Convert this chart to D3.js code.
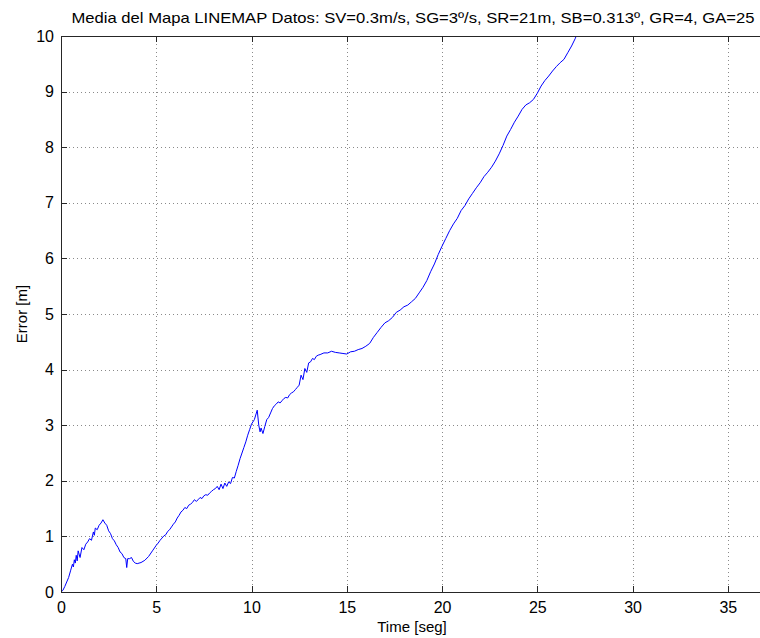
<!DOCTYPE html>
<html>
<head>
<meta charset="utf-8">
<script src="https://cdn.jsdelivr.net/npm/d3@7"></script>
<style>
  html, body { margin: 0; padding: 0; background: #fff; }
  svg { display: block; font-family: "Liberation Sans", Arial, Helvetica, sans-serif; }
</style>
</head>
<body>
<svg id="chart" width="760" height="638"></svg>
<script>
// Mean map error over time (seconds vs. metres)
const timeSeg = [
  0, 0.1, 0.2, 0.3, 0.4, 0.5, 0.6, 0.65, 0.7, 0.75, 0.8, 0.85, 0.9, 1.0, 1.1, 1.2, 1.3, 1.4, 1.5, 1.6,
  1.7, 1.75, 1.8, 1.9, 2.0, 2.1, 2.2, 2.3, 2.4, 2.5, 2.6, 2.7, 2.8, 2.9, 3.0, 3.1, 3.2, 3.3, 3.4, 3.45,
  3.5, 3.6, 3.7, 3.8, 3.9, 4.0, 4.2, 4.4, 4.6, 4.8, 5.0, 5.1, 5.2, 5.3, 5.4, 5.5, 5.6, 5.7, 5.8, 5.9,
  6.0, 6.1, 6.2, 6.3, 6.4, 6.5, 6.6, 6.7, 6.8, 6.9, 7.0, 7.1, 7.2, 7.3, 7.4, 7.5, 7.6, 7.7, 7.8, 7.9,
  8.0, 8.1, 8.2, 8.3, 8.4, 8.5, 8.6, 8.7, 8.8, 8.9, 9.0, 9.1, 9.2, 9.3, 9.4, 9.5, 9.6, 9.7, 9.8, 9.9,
  10.0, 10.15, 10.3, 10.38, 10.45, 10.5, 10.6, 10.7, 10.8, 10.9, 11.0, 11.1, 11.2, 11.3, 11.4, 11.5, 11.6, 11.7, 11.8, 11.9,
  12.0, 12.1, 12.2, 12.3, 12.4, 12.5, 12.6, 12.7, 12.8, 12.9, 13.0, 13.1, 13.2, 13.3, 13.4, 13.5, 13.6, 13.8, 14.0, 14.2,
  14.4, 14.6, 14.8, 15.0, 15.2, 15.4, 15.6, 15.8, 16.0, 16.2, 16.4, 16.6, 16.8, 17.0, 17.2, 17.4, 17.6, 17.8, 18.0, 18.2,
  18.4, 18.6, 18.8, 19.0, 19.2, 19.4, 19.6, 19.8, 20.0, 20.2, 20.4, 20.6, 20.8, 21.0, 21.2, 21.4, 21.6, 21.8, 22.0, 22.2,
  22.4, 22.6, 22.8, 23.0, 23.2, 23.4, 23.6, 23.8, 24.0, 24.2, 24.4, 24.6, 24.8, 25.0, 25.2, 25.4, 25.6, 25.8, 26.0, 26.2,
  26.4, 26.6, 26.8, 27.0, 27.1
];
const errorM = [
  0, 0.03, 0.1, 0.18, 0.26, 0.38, 0.5, 0.45, 0.58, 0.52, 0.66, 0.56, 0.74, 0.62, 0.8, 0.76, 0.86, 0.9, 0.96, 0.93,
  1.08, 1.02, 1.15, 1.12, 1.2, 1.24, 1.3, 1.24, 1.2, 1.1, 1.05, 0.96, 0.92, 0.85, 0.8, 0.72, 0.69, 0.62, 0.6, 0.44,
  0.6, 0.6, 0.62, 0.55, 0.52, 0.51, 0.53, 0.57, 0.64, 0.74, 0.84, 0.88, 0.93, 0.97, 1.01, 1.03, 1.09, 1.12, 1.17, 1.22,
  1.26, 1.33, 1.38, 1.44, 1.47, 1.52, 1.5, 1.56, 1.58, 1.61, 1.66, 1.63, 1.66, 1.7, 1.68, 1.73, 1.75, 1.74, 1.78, 1.81,
  1.84, 1.86, 1.9, 1.84, 1.94, 1.86, 1.96, 1.9, 1.98, 1.95, 2.06, 2.05, 2.17, 2.28, 2.4, 2.5, 2.6, 2.7, 2.82, 2.92,
  3.02, 3.1, 3.27, 3.0, 2.88, 2.95, 2.85, 2.98, 3.1, 3.14, 3.22, 3.3, 3.35, 3.38, 3.42, 3.4, 3.44, 3.48, 3.5, 3.49,
  3.55, 3.58, 3.6, 3.64, 3.68, 3.72, 3.9, 3.82, 4.02, 3.95, 4.12, 4.14, 4.2, 4.18, 4.24, 4.26, 4.27, 4.3, 4.3, 4.33,
  4.31, 4.3, 4.29, 4.28, 4.32, 4.33, 4.36, 4.38, 4.42, 4.47, 4.58, 4.67, 4.76, 4.84, 4.88, 4.94, 5.03, 5.07, 5.13, 5.16,
  5.22, 5.28, 5.38, 5.48, 5.6, 5.76, 5.9, 6.07, 6.22, 6.36, 6.5, 6.62, 6.72, 6.86, 6.95, 7.07, 7.17, 7.27, 7.36, 7.47,
  7.55, 7.64, 7.75, 7.88, 8.03, 8.2, 8.32, 8.45, 8.56, 8.68, 8.76, 8.8, 8.86, 8.97, 9.1, 9.2, 9.28, 9.37, 9.45, 9.52,
  9.58, 9.7, 9.82, 9.96, 10.06
];
const xTicks = [0, 5, 10, 15, 20, 25, 30, 35];
const yTicks = [0, 1, 2, 3, 4, 5, 6, 7, 8, 9, 10];
const titleText = "Media del Mapa LINEMAP Datos: SV=0.3m/s, SG=3º/s, SR=21m, SB=0.313º, GR=4, GA=25";
const xLabel = "Time [seg]";
const yLabel = "Error [m]";

const svg = d3.select("#chart");
const W = 760, H = 638;
const plotL = 61, plotT = 36, plotB = 592, plotR = 764;

svg.append("rect").attr("width", W).attr("height", H).attr("fill", "#fff");

const x = d3.scaleLinear().domain([0, 36.9]).range([plotL, plotR]);
const y = d3.scaleLinear().domain([0, 10]).range([plotB, plotT]);

svg.append("defs").append("clipPath").attr("id", "plotClip")
  .append("rect").attr("x", plotL).attr("y", plotT).attr("width", plotR - plotL).attr("height", plotB - plotT);

// dotted grid
const grid = svg.append("g").attr("stroke", "#8a8a8a").attr("stroke-width", 1)
  .attr("stroke-dasharray", "1,3").attr("shape-rendering", "crispEdges");
grid.selectAll("line.gx").data(xTicks.filter(d => d > 0)).join("line")
  .attr("x1", d => Math.round(x(d)) + 0.5).attr("x2", d => Math.round(x(d)) + 0.5)
  .attr("y1", plotT).attr("y2", plotB);
grid.selectAll("line.gy").data(yTicks.filter(d => d > 0 && d < 10)).join("line")
  .attr("x1", plotL).attr("x2", plotR)
  .attr("y1", d => Math.round(y(d)) + 0.5).attr("y2", d => Math.round(y(d)) + 0.5);

// data line
const line = d3.line().x((d, i) => x(timeSeg[i])).y(d => y(d));
svg.append("path")
  .attr("clip-path", "url(#plotClip)")
  .attr("d", line(errorM))
  .attr("fill", "none")
  .attr("stroke", "#0000ff")
  .attr("stroke-width", 1);

// axes (MATLAB-style inward ticks)
const axisColor = "#262626";
const xAxisB = svg.append("g").attr("transform", `translate(0,${plotB})`)
  .call(d3.axisBottom(x).tickValues(xTicks).tickSizeInner(-6).tickSizeOuter(0).tickPadding(10));
const xAxisT = svg.append("g").attr("transform", `translate(0,${plotT})`)
  .call(d3.axisTop(x).tickValues(xTicks).tickSizeInner(-6).tickSizeOuter(0).tickFormat(""));
const yAxisL = svg.append("g").attr("transform", `translate(${plotL},0)`)
  .call(d3.axisLeft(y).tickValues(yTicks).tickSizeInner(-6).tickSizeOuter(0).tickPadding(7));

[xAxisB, xAxisT, yAxisL].forEach(g => {
  g.select(".domain").attr("stroke", axisColor).attr("shape-rendering", "crispEdges");
  g.selectAll(".tick line").attr("stroke", axisColor).attr("shape-rendering", "crispEdges");
  g.selectAll(".tick text").attr("fill", "#000").attr("font-size", 16)
    .attr("font-family", "'Liberation Sans', Arial, sans-serif");
});

// title and axis labels
svg.append("text").attr("x", 413).attr("y", 23)
  .attr("text-anchor", "middle").attr("font-size", 15).attr("fill", "#000")
  .attr("textLength", 683).attr("lengthAdjust", "spacingAndGlyphs")
  .text(titleText);
svg.append("text").attr("x", 412).attr("y", 632)
  .attr("text-anchor", "middle").attr("font-size", 15).attr("fill", "#000")
  .text(xLabel);
svg.append("text").attr("transform", `translate(27,${(plotT + plotB) / 2}) rotate(-90)`)
  .attr("text-anchor", "middle").attr("font-size", 15).attr("fill", "#000")
  .text(yLabel);
</script>
</body>
</html>
